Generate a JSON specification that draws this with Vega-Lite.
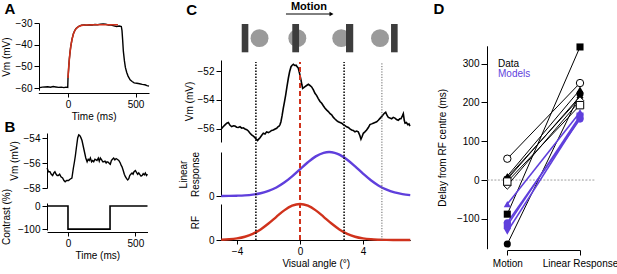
{
  "$schema": "https://vega.github.io/schema/vega-lite/v6.json",
  "width": 617,
  "height": 274,
  "autosize": {"type": "none"},
  "padding": 0,
  "background": "white",
  "config": {
    "view": {"stroke": null},
    "font": "Liberation Sans",
    "text": {"font": "Liberation Sans"},
    "axis": {
      "labelFont": "Liberation Sans", "labelFontSize": 10, "labelColor": "#000",
      "titleFont": "Liberation Sans", "titleFontSize": 10, "titleFontWeight": "normal", "titleColor": "#000",
      "domainColor": "#000", "tickColor": "#000", "domainWidth": 1, "tickWidth": 1,
      "tickSize": 5, "labelPadding": 2, "grid": false, "labelFlush": false, "labelOverlap": false
    }
  },
  "datasets": {
    "a_trace": [
      {"t": -210, "vm": -59.8}, {"t": -190, "vm": -59.6}, {"t": -170, "vm": -59.5}, {"t": -150, "vm": -59.4},
      {"t": -130, "vm": -59.6}, {"t": -110, "vm": -59.3}, {"t": -90, "vm": -59.5}, {"t": -70, "vm": -59.7},
      {"t": -50, "vm": -59.6}, {"t": -30, "vm": -59.8}, {"t": -15, "vm": -59.6}, {"t": -2, "vm": -59.7},
      {"t": 0, "vm": -55.5}, {"t": 5, "vm": -50.8}, {"t": 10, "vm": -46.6}, {"t": 15, "vm": -43.5},
      {"t": 20, "vm": -41.0}, {"t": 30, "vm": -37.4}, {"t": 40, "vm": -35.0}, {"t": 50, "vm": -33.5},
      {"t": 60, "vm": -32.5}, {"t": 80, "vm": -31.5}, {"t": 100, "vm": -31.0}, {"t": 120, "vm": -30.9},
      {"t": 140, "vm": -31.0}, {"t": 160, "vm": -30.8}, {"t": 180, "vm": -30.9}, {"t": 200, "vm": -30.7},
      {"t": 220, "vm": -30.8}, {"t": 240, "vm": -30.5}, {"t": 260, "vm": -30.4}, {"t": 280, "vm": -30.6},
      {"t": 300, "vm": -30.9}, {"t": 320, "vm": -31.0}, {"t": 340, "vm": -31.3}, {"t": 360, "vm": -31.6},
      {"t": 380, "vm": -31.4}, {"t": 395, "vm": -31.6}, {"t": 400, "vm": -33.5}, {"t": 405, "vm": -38.0},
      {"t": 410, "vm": -43.0}, {"t": 418, "vm": -47.5}, {"t": 425, "vm": -50.5}, {"t": 435, "vm": -52.8},
      {"t": 445, "vm": -54.5}, {"t": 460, "vm": -56.2}, {"t": 475, "vm": -57.0}, {"t": 490, "vm": -57.6},
      {"t": 510, "vm": -57.8}, {"t": 530, "vm": -58.0}, {"t": 550, "vm": -58.3}, {"t": 570, "vm": -58.5},
      {"t": 585, "vm": -58.9}, {"t": 600, "vm": -59.1}
    ],
    "a_fit": [
      {"t": 0, "vm": -55.4}, {"t": 5, "vm": -50.6}, {"t": 10, "vm": -46.7}, {"t": 15, "vm": -43.6},
      {"t": 20, "vm": -41.1}, {"t": 25, "vm": -39.1}, {"t": 30, "vm": -37.5}, {"t": 40, "vm": -35.1},
      {"t": 50, "vm": -33.6}, {"t": 60, "vm": -32.6}, {"t": 70, "vm": -32.0}, {"t": 80, "vm": -31.6},
      {"t": 100, "vm": -31.1}, {"t": 130, "vm": -30.9}, {"t": 200, "vm": -30.8}, {"t": 300, "vm": -30.8},
      {"t": 370, "vm": -30.8}
    ],
    "b_vm": [
      {"t": -155, "vm": -56.4}, {"t": -145, "vm": -56.7}, {"t": -134, "vm": -56.7}, {"t": -124, "vm": -56.9},
      {"t": -114, "vm": -57.0}, {"t": -105, "vm": -56.8}, {"t": -97, "vm": -56.7}, {"t": -88, "vm": -56.9},
      {"t": -80, "vm": -57.0}, {"t": -72, "vm": -57.0}, {"t": -62, "vm": -56.9}, {"t": -52, "vm": -57.1},
      {"t": -40, "vm": -57.2}, {"t": -30, "vm": -57.4}, {"t": -21, "vm": -57.5}, {"t": -10, "vm": -57.4},
      {"t": 4, "vm": -57.4}, {"t": 15, "vm": -57.3}, {"t": 29, "vm": -57.2}, {"t": 40, "vm": -56.4},
      {"t": 48, "vm": -55.9}, {"t": 55, "vm": -55.4}, {"t": 62, "vm": -54.8}, {"t": 72, "vm": -54.0},
      {"t": 80, "vm": -53.75}, {"t": 87, "vm": -53.8}, {"t": 95, "vm": -53.95}, {"t": 104, "vm": -54.2},
      {"t": 112, "vm": -54.6}, {"t": 122, "vm": -55.1}, {"t": 132, "vm": -55.6}, {"t": 142, "vm": -55.9},
      {"t": 150, "vm": -55.7}, {"t": 158, "vm": -55.8}, {"t": 166, "vm": -55.6}, {"t": 175, "vm": -55.9},
      {"t": 183, "vm": -55.8}, {"t": 191, "vm": -55.9}, {"t": 200, "vm": -55.7}, {"t": 208, "vm": -55.75},
      {"t": 215, "vm": -55.8}, {"t": 225, "vm": -55.6}, {"t": 232, "vm": -55.85}, {"t": 240, "vm": -55.6},
      {"t": 250, "vm": -55.75}, {"t": 258, "vm": -55.9}, {"t": 265, "vm": -55.9}, {"t": 275, "vm": -55.85},
      {"t": 283, "vm": -56.0}, {"t": 290, "vm": -55.9}, {"t": 300, "vm": -55.95}, {"t": 308, "vm": -56.05},
      {"t": 314, "vm": -56.1}, {"t": 322, "vm": -55.8}, {"t": 330, "vm": -55.7}, {"t": 339, "vm": -55.6},
      {"t": 348, "vm": -55.75}, {"t": 357, "vm": -55.65}, {"t": 365, "vm": -55.7}, {"t": 377, "vm": -55.8},
      {"t": 388, "vm": -56.0}, {"t": 395, "vm": -56.2}, {"t": 401, "vm": -56.3}, {"t": 410, "vm": -56.6},
      {"t": 418, "vm": -56.9}, {"t": 426, "vm": -57.1}, {"t": 435, "vm": -57.25}, {"t": 443, "vm": -57.35},
      {"t": 451, "vm": -57.25}, {"t": 458, "vm": -57.0}, {"t": 466, "vm": -56.9}, {"t": 475, "vm": -56.8},
      {"t": 483, "vm": -56.9}, {"t": 490, "vm": -56.7}, {"t": 500, "vm": -56.6}, {"t": 508, "vm": -56.75},
      {"t": 517, "vm": -56.9}, {"t": 525, "vm": -56.8}, {"t": 535, "vm": -56.95}, {"t": 542, "vm": -57.05},
      {"t": 550, "vm": -57.0}, {"t": 558, "vm": -56.85}, {"t": 566, "vm": -56.95}, {"t": 574, "vm": -56.8},
      {"t": 582, "vm": -57.0}, {"t": 590, "vm": -56.9}
    ],
    "b_contrast": [
      {"i": 0, "t": -155, "c": 0}, {"i": 1, "t": 0, "c": 0}, {"i": 2, "t": 0, "c": -100},
      {"i": 3, "t": 312, "c": -100}, {"i": 4, "t": 312, "c": 0}, {"i": 5, "t": 590, "c": 0}
    ],
    "c_vm": [
      {"a": -5.0, "vm": -56.0}, {"a": -4.88, "vm": -55.85}, {"a": -4.76, "vm": -55.72}, {"a": -4.65, "vm": -55.6},
      {"a": -4.55, "vm": -55.56}, {"a": -4.44, "vm": -55.75}, {"a": -4.34, "vm": -55.84}, {"a": -4.23, "vm": -55.78},
      {"a": -4.13, "vm": -55.8}, {"a": -4.02, "vm": -55.88}, {"a": -3.92, "vm": -55.9}, {"a": -3.81, "vm": -55.85},
      {"a": -3.70, "vm": -55.95}, {"a": -3.60, "vm": -55.92}, {"a": -3.49, "vm": -56.0}, {"a": -3.38, "vm": -56.05},
      {"a": -3.28, "vm": -56.14}, {"a": -3.17, "vm": -56.3}, {"a": -3.07, "vm": -56.41}, {"a": -2.96, "vm": -56.5},
      {"a": -2.86, "vm": -56.6}, {"a": -2.78, "vm": -56.7}, {"a": -2.69, "vm": -56.8}, {"a": -2.62, "vm": -56.7},
      {"a": -2.54, "vm": -56.6}, {"a": -2.44, "vm": -56.45}, {"a": -2.33, "vm": -56.3}, {"a": -2.22, "vm": -56.35},
      {"a": -2.12, "vm": -56.2}, {"a": -2.01, "vm": -56.25}, {"a": -1.90, "vm": -56.18}, {"a": -1.80, "vm": -56.1},
      {"a": -1.69, "vm": -56.07}, {"a": -1.58, "vm": -56.0}, {"a": -1.48, "vm": -55.95}, {"a": -1.40, "vm": -55.85},
      {"a": -1.33, "vm": -55.8}, {"a": -1.27, "vm": -55.7}, {"a": -1.21, "vm": -55.5}, {"a": -1.14, "vm": -55.1},
      {"a": -1.06, "vm": -54.57}, {"a": -0.98, "vm": -54.1}, {"a": -0.91, "vm": -53.66}, {"a": -0.83, "vm": -53.1},
      {"a": -0.74, "vm": -52.5}, {"a": -0.66, "vm": -52.05}, {"a": -0.57, "vm": -51.7}, {"a": -0.50, "vm": -51.6},
      {"a": -0.42, "vm": -51.54}, {"a": -0.33, "vm": -51.62}, {"a": -0.25, "vm": -51.6}, {"a": -0.18, "vm": -51.7},
      {"a": -0.11, "vm": -51.8}, {"a": -0.02, "vm": -52.2}, {"a": 0.06, "vm": -52.6}, {"a": 0.12, "vm": -52.95},
      {"a": 0.17, "vm": -53.2}, {"a": 0.24, "vm": -53.15}, {"a": 0.32, "vm": -53.08}, {"a": 0.42, "vm": -53.0},
      {"a": 0.53, "vm": -52.92}, {"a": 0.63, "vm": -53.0}, {"a": 0.74, "vm": -53.1}, {"a": 0.85, "vm": -53.3},
      {"a": 0.95, "vm": -53.54}, {"a": 1.06, "vm": -53.7}, {"a": 1.16, "vm": -53.9}, {"a": 1.27, "vm": -54.1},
      {"a": 1.38, "vm": -54.23}, {"a": 1.48, "vm": -54.4}, {"a": 1.59, "vm": -54.57}, {"a": 1.70, "vm": -54.7},
      {"a": 1.80, "vm": -54.8}, {"a": 1.91, "vm": -54.95}, {"a": 2.01, "vm": -55.03}, {"a": 2.12, "vm": -55.2},
      {"a": 2.22, "vm": -55.31}, {"a": 2.33, "vm": -55.42}, {"a": 2.43, "vm": -55.5}, {"a": 2.54, "vm": -55.55},
      {"a": 2.65, "vm": -55.6}, {"a": 2.75, "vm": -55.7}, {"a": 2.86, "vm": -55.77}, {"a": 2.96, "vm": -55.85},
      {"a": 3.07, "vm": -55.9}, {"a": 3.17, "vm": -56.0}, {"a": 3.28, "vm": -56.07}, {"a": 3.38, "vm": -56.1},
      {"a": 3.49, "vm": -56.2}, {"a": 3.60, "vm": -56.15}, {"a": 3.70, "vm": -56.2}, {"a": 3.80, "vm": -56.45},
      {"a": 3.87, "vm": -56.7}, {"a": 3.95, "vm": -56.5}, {"a": 4.02, "vm": -56.3}, {"a": 4.12, "vm": -56.2},
      {"a": 4.23, "vm": -56.07}, {"a": 4.34, "vm": -55.9}, {"a": 4.44, "vm": -55.7}, {"a": 4.55, "vm": -55.65},
      {"a": 4.65, "vm": -55.6}, {"a": 4.76, "vm": -55.55}, {"a": 4.87, "vm": -55.5}, {"a": 4.97, "vm": -55.4},
      {"a": 5.08, "vm": -55.27}, {"a": 5.18, "vm": -55.15}, {"a": 5.29, "vm": -55.0}, {"a": 5.37, "vm": -54.9},
      {"a": 5.44, "vm": -54.85}, {"a": 5.52, "vm": -55.05}, {"a": 5.61, "vm": -55.2}, {"a": 5.71, "vm": -55.25},
      {"a": 5.82, "vm": -55.3}, {"a": 5.92, "vm": -55.2}, {"a": 6.03, "vm": -55.25}, {"a": 6.13, "vm": -55.35},
      {"a": 6.24, "vm": -55.4}, {"a": 6.33, "vm": -55.3}, {"a": 6.41, "vm": -55.3}, {"a": 6.50, "vm": -55.1},
      {"a": 6.56, "vm": -54.95}, {"a": 6.62, "vm": -55.4}, {"a": 6.67, "vm": -55.6}, {"a": 6.76, "vm": -55.55},
      {"a": 6.84, "vm": -55.7}, {"a": 6.92, "vm": -55.65}, {"a": 6.98, "vm": -55.8}
    ],
    "c_linear": [
      {"a": -5, "r": 0.001}, {"a": -4.5, "r": 0.003}, {"a": -4, "r": 0.007}, {"a": -3.5, "r": 0.015},
      {"a": -3, "r": 0.032}, {"a": -2.5, "r": 0.063}, {"a": -2, "r": 0.115}, {"a": -1.5, "r": 0.194},
      {"a": -1, "r": 0.305}, {"a": -0.5, "r": 0.446}, {"a": 0, "r": 0.607}, {"a": 0.5, "r": 0.766},
      {"a": 1, "r": 0.9}, {"a": 1.5, "r": 0.982}, {"a": 1.85, "r": 1.0}, {"a": 2.2, "r": 0.982},
      {"a": 2.5, "r": 0.94}, {"a": 3, "r": 0.824}, {"a": 3.5, "r": 0.672}, {"a": 4, "r": 0.509},
      {"a": 4.5, "r": 0.358}, {"a": 5, "r": 0.235}, {"a": 5.5, "r": 0.143}, {"a": 6, "r": 0.081},
      {"a": 6.5, "r": 0.043}, {"a": 7, "r": 0.021}
    ],
    "c_rf": [
      {"a": -5, "r": 0.008}, {"a": -4.5, "r": 0.019}, {"a": -4, "r": 0.044}, {"a": -3.5, "r": 0.091},
      {"a": -3, "r": 0.172}, {"a": -2.5, "r": 0.295}, {"a": -2, "r": 0.458}, {"a": -1.5, "r": 0.644},
      {"a": -1, "r": 0.823}, {"a": -0.5, "r": 0.952}, {"a": 0, "r": 1.0}, {"a": 0.5, "r": 0.952},
      {"a": 1, "r": 0.823}, {"a": 1.5, "r": 0.644}, {"a": 2, "r": 0.458}, {"a": 2.5, "r": 0.295},
      {"a": 3, "r": 0.172}, {"a": 3.5, "r": 0.091}, {"a": 4, "r": 0.044}, {"a": 4.5, "r": 0.019},
      {"a": 5, "r": 0.008}, {"a": 5.5, "r": 0.003}, {"a": 6, "r": 0.001}, {"a": 6.5, "r": 0.0}, {"a": 7, "r": 0.0}
    ],
    "c_discs": [{"a": -2.57}, {"a": -0.17}, {"a": 2.62}, {"a": 5.08}],
    "c_bars": [
      {"from": -3.70, "to": -3.28}, {"from": -0.49, "to": -0.06},
      {"from": 2.92, "to": 3.38}, {"from": 5.78, "to": 6.2}
    ],
    "d_delays": [
      {"cell": "d1", "source": "Data", "marker": "circle", "open": true, "stage": 0, "delay": 55},
      {"cell": "d1", "source": "Data", "marker": "circle", "open": true, "stage": 1, "delay": 250},
      {"cell": "d2", "source": "Data", "marker": "square", "open": false, "stage": 0, "delay": -88},
      {"cell": "d2", "source": "Data", "marker": "square", "open": false, "stage": 1, "delay": 343},
      {"cell": "d3", "source": "Data", "marker": "circle", "open": false, "stage": 0, "delay": -165},
      {"cell": "d3", "source": "Data", "marker": "circle", "open": false, "stage": 1, "delay": 222},
      {"cell": "d4", "source": "Data", "marker": "triangle-up", "open": false, "stage": 0, "delay": 10},
      {"cell": "d4", "source": "Data", "marker": "triangle-up", "open": false, "stage": 1, "delay": 233},
      {"cell": "d5", "source": "Data", "marker": "triangle-down", "open": false, "stage": 0, "delay": 2},
      {"cell": "d5", "source": "Data", "marker": "triangle-down", "open": false, "stage": 1, "delay": 216},
      {"cell": "d6", "source": "Data", "marker": "diamond", "open": true, "stage": 0, "delay": -14},
      {"cell": "d6", "source": "Data", "marker": "diamond", "open": true, "stage": 1, "delay": 205},
      {"cell": "d7", "source": "Data", "marker": "square", "open": true, "stage": 0, "delay": -4},
      {"cell": "d7", "source": "Data", "marker": "square", "open": true, "stage": 1, "delay": 193},
      {"cell": "d8", "source": "Data", "marker": "diamond", "open": false, "stage": 0, "delay": 6},
      {"cell": "d8", "source": "Data", "marker": "diamond", "open": false, "stage": 1, "delay": 212},
      {"cell": "m1", "source": "Models", "marker": "triangle-up", "open": false, "stage": 0, "delay": -62},
      {"cell": "m1", "source": "Models", "marker": "triangle-up", "open": false, "stage": 1, "delay": 175},
      {"cell": "m2", "source": "Models", "marker": "circle", "open": false, "stage": 0, "delay": -110},
      {"cell": "m2", "source": "Models", "marker": "circle", "open": false, "stage": 1, "delay": 157},
      {"cell": "m3", "source": "Models", "marker": "square", "open": false, "stage": 0, "delay": -117},
      {"cell": "m3", "source": "Models", "marker": "square", "open": false, "stage": 1, "delay": 165},
      {"cell": "m4", "source": "Models", "marker": "triangle-down", "open": false, "stage": 0, "delay": -133},
      {"cell": "m4", "source": "Models", "marker": "triangle-down", "open": false, "stage": 1, "delay": 161}
    ]
  },
  "layer": [
    {
      "layer": [
        {
          "data": {"name": "a_trace"},
          "mark": {"type": "line", "color": "#000", "strokeWidth": 1.4},
          "encoding": {
            "x": {"field": "t", "type": "quantitative", "scale": {"domain": [-220, 600], "range": [38.3, 149], "nice": false, "zero": false},
                  "axis": {"orient": "bottom", "offset": -181, "values": [0, 500], "title": "Time (ms)", "tickSize": 4, "titlePadding": 2}},
            "y": {"field": "vm", "type": "quantitative", "scale": {"domain": [-61, -30], "range": [90.2, 23], "nice": false, "zero": false},
                  "axis": {"orient": "left", "offset": -39, "values": [-60, -50, -40, -30], "title": "Vm (mV)", "titlePadding": 4}}
          }
        },
        {
          "data": {"name": "a_fit"},
          "mark": {"type": "line", "color": "#d0321c", "strokeWidth": 1.6},
          "encoding": {
            "x": {"field": "t", "type": "quantitative", "scale": {"domain": [-220, 600], "range": [38.3, 149], "nice": false, "zero": false}, "axis": null},
            "y": {"field": "vm", "type": "quantitative", "scale": {"domain": [-61, -30], "range": [90.2, 23], "nice": false, "zero": false}, "axis": null}
          }
        },
        {
          "data": {"values": [{"label": "A"}]},
          "mark": {"type": "text", "fontSize": 15, "fontWeight": "bold", "align": "center", "baseline": "middle", "color": "#000"},
          "encoding": {
            "x": {"datum": -430, "type": "quantitative", "scale": {"domain": [-220, 600], "range": [38.3, 149], "nice": false, "zero": false}, "axis": null},
            "y": {"datum": -23.5, "type": "quantitative", "scale": {"domain": [-61, -30], "range": [90.2, 23], "nice": false, "zero": false}, "axis": null},
            "text": {"field": "label"}
          }
        }
      ],
      "resolve": {"scale": {"x": "independent", "y": "independent"}, "axis": {"x": "independent", "y": "independent"}}
    },
    {
      "layer": [
        {
          "data": {"name": "b_vm"},
          "mark": {"type": "line", "color": "#000", "strokeWidth": 1.4},
          "encoding": {
            "x": {"field": "t", "type": "quantitative", "scale": {"domain": [-155, 590], "range": [47.1, 147.5], "nice": false, "zero": false}, "axis": null},
            "y": {"field": "vm", "type": "quantitative", "scale": {"domain": [-58, -53.6], "range": [188, 133], "nice": false, "zero": false},
                  "axis": {"orient": "left", "offset": -47, "values": [-58, -56, -54], "title": "Vm (mV)", "titlePadding": 4}}
          }
        },
        {
          "data": {"name": "b_contrast"},
          "mark": {"type": "line", "color": "#000", "strokeWidth": 1.6},
          "encoding": {
            "order": {"field": "i", "type": "quantitative"},
            "x": {"field": "t", "type": "quantitative", "scale": {"domain": [-155, 590], "range": [47.1, 147.5], "nice": false, "zero": false},
                  "axis": {"orient": "bottom", "offset": -42, "values": [0, 500], "title": "Time (ms)", "tickSize": 4, "titlePadding": 2}},
            "y": {"field": "c", "type": "quantitative", "scale": {"domain": [-104, 13], "range": [230, 203], "nice": false, "zero": false},
                  "axis": {"orient": "left", "offset": -47, "values": [-100, 0], "title": "Contrast (%)", "titlePadding": 6}}
          }
        },
        {
          "data": {"values": [{"label": "B"}]},
          "mark": {"type": "text", "fontSize": 15, "fontWeight": "bold", "align": "center", "baseline": "middle", "color": "#000"},
          "encoding": {
            "x": {"datum": -430, "type": "quantitative", "scale": {"domain": [-155, 590], "range": [47.1, 147.5], "nice": false, "zero": false}, "axis": null},
            "y": {"datum": -53.12, "type": "quantitative", "scale": {"domain": [-58, -53.6], "range": [188, 133], "nice": false, "zero": false}, "axis": null},
            "text": {"field": "label"}
          }
        }
      ],
      "resolve": {"scale": {"x": "independent", "y": "independent"}, "axis": {"x": "independent", "y": "independent"}}
    },
    {
      "layer": [
        {
          "data": {"name": "c_discs"},
          "mark": {"type": "point", "shape": "circle", "filled": true, "color": "#9a9a9a", "opacity": 1, "size": 320},
          "encoding": {
            "x": {"field": "a", "type": "quantitative", "scale": {"domain": [-5, 7], "range": [221.25, 410.25], "nice": false, "zero": false}, "axis": null},
            "y": {"datum": 0.5, "type": "quantitative", "scale": {"domain": [0, 1], "range": [52.3, 24], "nice": false, "zero": false}, "axis": null}
          }
        },
        {
          "data": {"name": "c_bars"},
          "mark": {"type": "rect", "color": "#3d3d3d"},
          "encoding": {
            "x": {"field": "from", "type": "quantitative", "scale": {"domain": [-5, 7], "range": [221.25, 410.25], "nice": false, "zero": false}, "axis": null},
            "x2": {"field": "to"},
            "y": {"datum": 0, "type": "quantitative", "scale": {"domain": [0, 1], "range": [52.3, 24], "nice": false, "zero": false}, "axis": null},
            "y2": {"datum": 1}
          }
        },
        {
          "data": {"values": [{"label": "Motion"}]},
          "mark": {"type": "text", "fontSize": 11, "fontWeight": "bold", "align": "center", "baseline": "middle", "color": "#000"},
          "encoding": {
            "x": {"datum": 0.57, "type": "quantitative", "scale": {"domain": [-5, 7], "range": [221.25, 410.25], "nice": false, "zero": false}, "axis": null},
            "y": {"datum": 1.6, "type": "quantitative", "scale": {"domain": [0, 1], "range": [52.3, 24], "nice": false, "zero": false}, "axis": null},
            "text": {"field": "label"}
          }
        },
        {
          "data": {"values": [{"label": "arrow"}]},
          "mark": {"type": "rule", "color": "#000", "strokeWidth": 1},
          "encoding": {
            "x": {"datum": -0.89, "type": "quantitative", "scale": {"domain": [-5, 7], "range": [221.25, 410.25], "nice": false, "zero": false}, "axis": null},
            "x2": {"datum": 2.0},
            "y": {"datum": 1.353, "type": "quantitative", "scale": {"domain": [0, 1], "range": [52.3, 24], "nice": false, "zero": false}, "axis": null}
          }
        },
        {
          "data": {"values": [{"label": "arrowhead"}]},
          "mark": {"type": "point", "shape": "triangle-right", "filled": true, "color": "#000", "opacity": 1, "size": 22},
          "encoding": {
            "x": {"datum": 2.0, "type": "quantitative", "scale": {"domain": [-5, 7], "range": [221.25, 410.25], "nice": false, "zero": false}, "axis": null},
            "y": {"datum": 1.353, "type": "quantitative", "scale": {"domain": [0, 1], "range": [52.3, 24], "nice": false, "zero": false}, "axis": null}
          }
        },
        {
          "data": {"values": [{"label": "C"}]},
          "mark": {"type": "text", "fontSize": 15, "fontWeight": "bold", "align": "center", "baseline": "middle", "color": "#000"},
          "encoding": {
            "x": {"datum": -6.876, "type": "quantitative", "scale": {"domain": [-5, 7], "range": [221.25, 410.25], "nice": false, "zero": false}, "axis": null},
            "y": {"datum": 1.495, "type": "quantitative", "scale": {"domain": [0, 1], "range": [52.3, 24], "nice": false, "zero": false}, "axis": null},
            "text": {"field": "label"}
          }
        },
        {
          "data": {"name": "c_vm"},
          "mark": {"type": "line", "color": "#000", "strokeWidth": 1.6},
          "encoding": {
            "x": {"field": "a", "type": "quantitative", "scale": {"domain": [-5, 7], "range": [221.25, 410.25], "nice": false, "zero": false}, "axis": null},
            "y": {"field": "vm", "type": "quantitative", "scale": {"domain": [-56.9, -51.24], "range": [142, 60], "nice": false, "zero": false},
                  "axis": {"orient": "left", "offset": -221, "values": [-56, -54, -52], "title": "Vm (mV)", "titlePadding": 3}}
          }
        },
        {
          "data": {"name": "c_linear"},
          "mark": {"type": "line", "color": "#5f3fdc", "strokeWidth": 2.4, "interpolate": "monotone"},
          "encoding": {
            "x": {"field": "a", "type": "quantitative", "scale": {"domain": [-5, 7], "range": [221.25, 410.25], "nice": false, "zero": false}, "axis": null},
            "y": {"field": "r", "type": "quantitative", "scale": {"domain": [0, 1], "range": [196, 152], "nice": false, "zero": false},
                  "axis": {"orient": "left", "offset": -221, "values": [0], "title": ["Linear", "Response"], "titlePadding": 8}}
          }
        },
        {
          "data": {"name": "c_rf"},
          "mark": {"type": "line", "color": "#d0321c", "strokeWidth": 2.4, "interpolate": "monotone"},
          "encoding": {
            "x": {"field": "a", "type": "quantitative", "scale": {"domain": [-5, 7], "range": [221.25, 410.25], "nice": false, "zero": false},
                  "axis": {"orient": "bottom", "offset": -34, "values": [-4, 0, 4], "title": "Visual angle (°)", "tickSize": 4, "titlePadding": 2}},
            "y": {"field": "r", "type": "quantitative", "scale": {"domain": [0, 1], "range": [240, 204], "nice": false, "zero": false},
                  "axis": {"orient": "left", "offset": -221, "values": [0], "title": "RF", "titlePadding": 8}}
          }
        },
        {
          "data": {"values": [{"a": -2.8}, {"a": 2.8}]},
          "mark": {"type": "rule", "color": "#000", "strokeWidth": 1.5, "strokeDash": [1.5, 1.5]},
          "encoding": {
            "x": {"field": "a", "type": "quantitative", "scale": {"domain": [-5, 7], "range": [221.25, 410.25], "nice": false, "zero": false}, "axis": null},
            "y": {"datum": 0, "type": "quantitative", "scale": {"domain": [0, 1], "range": [240, 62], "nice": false, "zero": false}, "axis": null},
            "y2": {"datum": 1}
          }
        },
        {
          "data": {"values": [{"a": 5.2}]},
          "mark": {"type": "rule", "color": "#666", "strokeWidth": 1, "strokeDash": [1.2, 1.5]},
          "encoding": {
            "x": {"field": "a", "type": "quantitative", "scale": {"domain": [-5, 7], "range": [221.25, 410.25], "nice": false, "zero": false}, "axis": null},
            "y": {"datum": 0, "type": "quantitative", "scale": {"domain": [0, 1], "range": [240, 62], "nice": false, "zero": false}, "axis": null},
            "y2": {"datum": 1}
          }
        },
        {
          "data": {"values": [{"a": 0}]},
          "mark": {"type": "rule", "color": "#d0321c", "strokeWidth": 2, "strokeDash": [5, 3]},
          "encoding": {
            "x": {"field": "a", "type": "quantitative", "scale": {"domain": [-5, 7], "range": [221.25, 410.25], "nice": false, "zero": false}, "axis": null},
            "y": {"datum": 0, "type": "quantitative", "scale": {"domain": [0, 1], "range": [240, 62], "nice": false, "zero": false}, "axis": null},
            "y2": {"datum": 1}
          }
        }
      ],
      "resolve": {"scale": {"x": "independent", "y": "independent"}, "axis": {"x": "independent", "y": "independent"}}
    },
    {
      "layer": [
        {
          "data": {"values": [{"label": "zero"}]},
          "mark": {"type": "rule", "color": "#a0a0a0", "strokeWidth": 1, "strokeDash": [2, 1.5]},
          "encoding": {
            "x": {"datum": -0.274, "type": "quantitative", "scale": {"domain": [0, 1], "range": [507.3, 580], "nice": false, "zero": false}, "axis": null},
            "x2": {"datum": 1.205},
            "y": {"datum": 0, "type": "quantitative", "scale": {"domain": [-177, 346], "range": [248.7, 45.8], "nice": false, "zero": false}, "axis": null}
          }
        },
        {
          "data": {"name": "d_delays"},
          "mark": {"type": "line"},
          "encoding": {
            "x": {"field": "stage", "type": "quantitative", "scale": {"domain": [0, 1], "range": [507.3, 580], "nice": false, "zero": false},
                  "axis": {"orient": "bottom", "offset": -24, "values": [0, 1], "title": null, "labelExpr": "datum.value == 0 ? 'Motion' : 'Linear Response'", "tickSize": 5, "labelPadding": 3}},
            "y": {"field": "delay", "type": "quantitative", "scale": {"domain": [-177, 346], "range": [248.7, 45.8], "nice": false, "zero": false},
                  "axis": {"orient": "left", "offset": -487, "values": [-100, 0, 100, 200, 300], "title": "Delay from RF centre (ms)", "tickSize": 6, "titlePadding": 9}},
            "detail": {"field": "cell"},
            "color": {"field": "source", "type": "nominal", "scale": {"domain": ["Data", "Models"], "range": ["#000000", "#5f3fdc"]}, "legend": null},
            "strokeWidth": {"field": "source", "type": "nominal", "scale": {"domain": ["Data", "Models"], "range": [1, 1.6]}, "legend": null}
          }
        },
        {
          "data": {"name": "d_delays"},
          "transform": [{"filter": "!datum.open"}],
          "mark": {"type": "point", "filled": true, "opacity": 1, "size": 50},
          "encoding": {
            "x": {"field": "stage", "type": "quantitative", "scale": {"domain": [0, 1], "range": [507.3, 580], "nice": false, "zero": false}, "axis": null},
            "y": {"field": "delay", "type": "quantitative", "scale": {"domain": [-177, 346], "range": [248.7, 45.8], "nice": false, "zero": false}, "axis": null},
            "color": {"field": "source", "type": "nominal", "scale": {"domain": ["Data", "Models"], "range": ["#000000", "#5f3fdc"]}, "legend": null},
            "shape": {"field": "marker", "type": "nominal", "scale": {"domain": ["circle", "square", "diamond", "triangle-up", "triangle-down"], "range": ["circle", "square", "diamond", "triangle-up", "triangle-down"]}, "legend": null}
          }
        },
        {
          "data": {"name": "d_delays"},
          "transform": [{"filter": "datum.open"}],
          "mark": {"type": "point", "fill": "#ffffff", "stroke": "#000000", "strokeWidth": 1, "opacity": 1, "fillOpacity": 1, "size": 55},
          "encoding": {
            "x": {"field": "stage", "type": "quantitative", "scale": {"domain": [0, 1], "range": [507.3, 580], "nice": false, "zero": false}, "axis": null},
            "y": {"field": "delay", "type": "quantitative", "scale": {"domain": [-177, 346], "range": [248.7, 45.8], "nice": false, "zero": false}, "axis": null},
            "shape": {"field": "marker", "type": "nominal", "scale": {"domain": ["circle", "square", "diamond", "triangle-up", "triangle-down"], "range": ["circle", "square", "diamond", "triangle-up", "triangle-down"]}, "legend": null}
          }
        },
        {
          "data": {"values": [{"label": "Data", "delay": 299}, {"label": "Models", "delay": 273}]},
          "mark": {"type": "text", "fontSize": 10, "align": "left", "baseline": "middle"},
          "encoding": {
            "x": {"datum": -0.128, "type": "quantitative", "scale": {"domain": [0, 1], "range": [507.3, 580], "nice": false, "zero": false}, "axis": null},
            "y": {"field": "delay", "type": "quantitative", "scale": {"domain": [-177, 346], "range": [248.7, 45.8], "nice": false, "zero": false}, "axis": null},
            "text": {"field": "label"},
            "color": {"field": "label", "type": "nominal", "scale": {"domain": ["Data", "Models"], "range": ["#000000", "#5f3fdc"]}, "legend": null}
          }
        },
        {
          "data": {"values": [{"label": "D"}]},
          "mark": {"type": "text", "fontSize": 15, "fontWeight": "bold", "align": "center", "baseline": "middle", "color": "#000"},
          "encoding": {
            "x": {"datum": -0.939, "type": "quantitative", "scale": {"domain": [0, 1], "range": [507.3, 580], "nice": false, "zero": false}, "axis": null},
            "y": {"datum": 439.6, "type": "quantitative", "scale": {"domain": [-177, 346], "range": [248.7, 45.8], "nice": false, "zero": false}, "axis": null},
            "text": {"field": "label"}
          }
        }
      ],
      "resolve": {"scale": {"x": "independent", "y": "independent", "color": "independent", "shape": "independent", "strokeWidth": "independent"}, "axis": {"x": "independent", "y": "independent"}}
    }
  ],
  "resolve": {
    "scale": {"x": "independent", "y": "independent", "color": "independent", "shape": "independent", "strokeWidth": "independent"},
    "axis": {"x": "independent", "y": "independent"}
  }
}
